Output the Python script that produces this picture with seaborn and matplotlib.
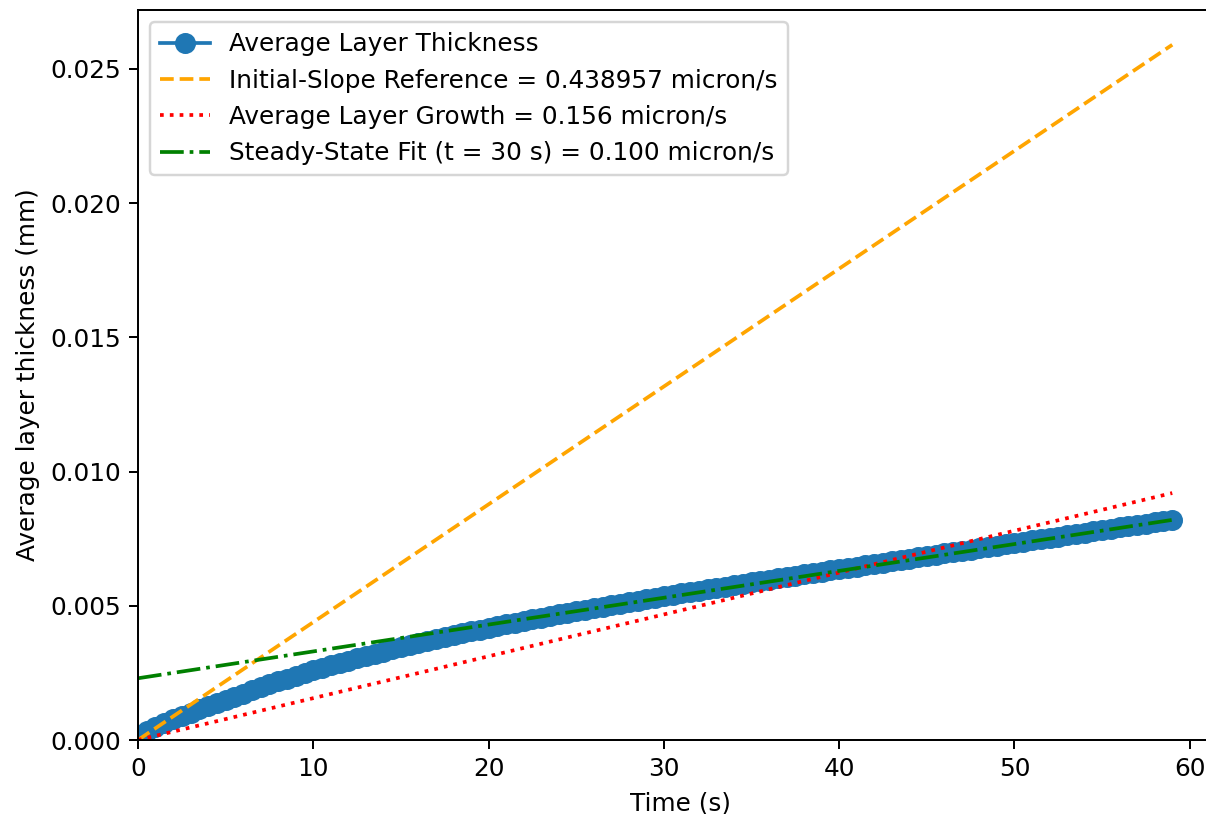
import numpy as np
import matplotlib
matplotlib.use("Agg")
import matplotlib.pyplot as plt
import seaborn as sns

# Measured layer thickness (sampled every 0.5 s), thickness in microns
time_s = [
    0.0, 0.5, 1.0, 1.5, 2.0, 2.5, 3.0, 3.5, 4.0, 4.5, 5.0, 5.5, 6.0, 6.5, 7.0, 7.5,
    8.0, 8.5, 9.0, 9.5, 10.0, 10.5, 11.0, 11.5, 12.0, 12.5, 13.0, 13.5, 14.0, 14.5,
    15.0, 15.5, 16.0, 16.5, 17.0, 17.5, 18.0, 18.5, 19.0, 19.5, 20.0, 20.5, 21.0,
    21.5, 22.0, 22.5, 23.0, 23.5, 24.0, 24.5, 25.0, 25.5, 26.0, 26.5, 27.0, 27.5,
    28.0, 28.5, 29.0, 29.5, 30.0, 30.5, 31.0, 31.5, 32.0, 32.5, 33.0, 33.5, 34.0,
    34.5, 35.0, 35.5, 36.0, 36.5, 37.0, 37.5, 38.0, 38.5, 39.0, 39.5, 40.0, 40.5,
    41.0, 41.5, 42.0, 42.5, 43.0, 43.5, 44.0, 44.5, 45.0, 45.5, 46.0, 46.5, 47.0,
    47.5, 48.0, 48.5, 49.0, 49.5, 50.0, 50.5, 51.0, 51.5, 52.0, 52.5, 53.0, 53.5,
    54.0, 54.5, 55.0, 55.5, 56.0, 56.5, 57.0, 57.5, 58.0, 58.5, 59.0,
]
thickness_um = [
    0.200, 0.350, 0.500, 0.635, 0.770, 0.895, 1.020, 1.140, 1.260, 1.375, 1.490,
    1.610, 1.730, 1.845, 1.960, 2.070, 2.180, 2.285, 2.390, 2.490, 2.590, 2.685,
    2.780, 2.870, 2.960, 3.045, 3.130, 3.213, 3.295, 3.375, 3.455, 3.533, 3.610,
    3.685, 3.760, 3.833, 3.905, 3.975, 4.045, 4.113, 4.180, 4.245, 4.310, 4.374,
    4.437, 4.499, 4.561, 4.622, 4.682, 4.741, 4.800, 4.858, 4.915, 4.972, 5.028,
    5.084, 5.139, 5.194, 5.248, 5.302, 5.355, 5.408, 5.460, 5.512, 5.564, 5.616,
    5.667, 5.718, 5.769, 5.820, 5.870, 5.920, 5.970, 6.020, 6.069, 6.119, 6.168,
    6.217, 6.266, 6.315, 6.364, 6.413, 6.462, 6.511, 6.560, 6.609, 6.658, 6.707,
    6.756, 6.805, 6.854, 6.903, 6.951, 7.000, 7.048, 7.097, 7.145, 7.194, 7.242,
    7.291, 7.339, 7.388, 7.436, 7.485, 7.533, 7.581, 7.629, 7.677, 7.725, 7.773,
    7.821, 7.869, 7.917, 7.965, 8.013, 8.061, 8.108, 8.156, 8.203,
]

# Reference lines (start and end values, mm)
ref_time = [0.0, 59.0]
initial_slope_ref = [0.0, 0.0259]
avg_growth_ref = [0.0, 0.0092]
steady_fit_ref = [0.0023, 0.0082]

thickness_mm = np.array(thickness_um) / 1000.0

fig = plt.figure(figsize=(1206 / 178, 814 / 178), dpi=178)
ax = fig.add_axes([0.1144, 0.0909, 0.9005, 0.8968])

sns.lineplot(x=time_s, y=thickness_mm, marker="o", markersize=7.5,
             markeredgecolor="#1f77b4", markeredgewidth=1.0, color="#1f77b4",
             linewidth=1.5, label="Average Layer Thickness", ax=ax)
sns.lineplot(x=ref_time, y=initial_slope_ref, color="orange", linestyle="--",
             linewidth=1.5, label="Initial-Slope Reference = 0.438957 micron/s", ax=ax)
sns.lineplot(x=ref_time, y=avg_growth_ref, color="red", linestyle=":",
             linewidth=1.5, label="Average Layer Growth = 0.156 micron/s", ax=ax)
sns.lineplot(x=ref_time, y=steady_fit_ref, color="green", linestyle="-.",
             linewidth=1.5, label="Steady-State Fit (t = 30 s) = 0.100 micron/s", ax=ax)

ax.set_xlim(left=0)
ax.set_ylim(bottom=0)
ax.spines["right"].set_visible(False)
ax.set_xlabel("Time (s)")
ax.set_ylabel("Average layer thickness (mm)")
ax.set_title("Average Layer Thickness vs Time", pad=6.6)
ax.legend(loc="upper left")

fig.savefig("out.png", dpi=178)
